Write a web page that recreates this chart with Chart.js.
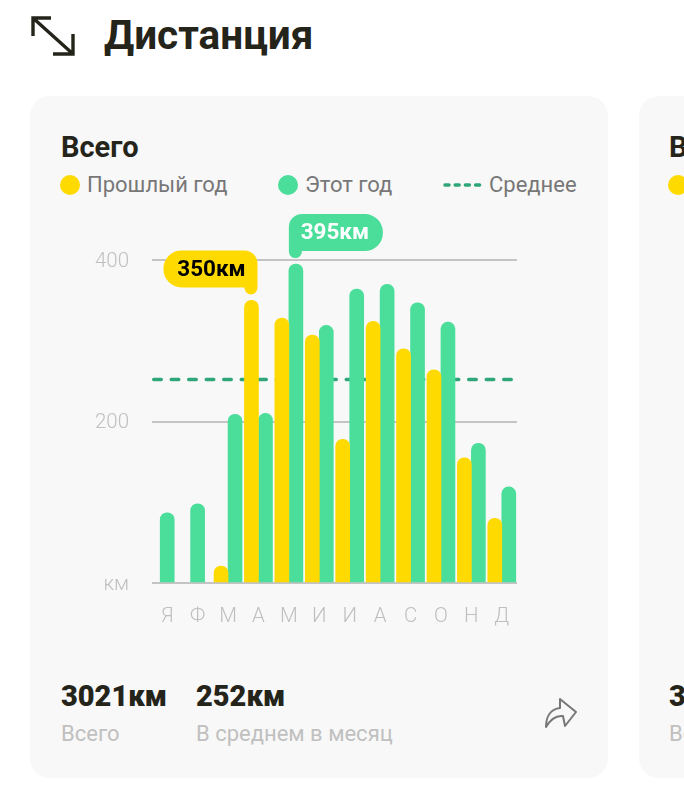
<!DOCTYPE html>
<html lang="ru">
<head>
<meta charset="utf-8">
<title>Дистанция</title>
<script src="https://cdn.jsdelivr.net/npm/chart.js@4/dist/chart.umd.min.js"></script>
<style>
html, body { margin: 0; padding: 0; background: #fff; }
body { position: relative; width: 684px; height: 800px; overflow: hidden; font-family: Roboto, sans-serif; }
.abs { position: absolute; white-space: nowrap; line-height: 1; }
.card { position: absolute; top: 96px; height: 682px; background: #f8f8f8; border-radius: 20px; }
.title { left: 104px; top: 15px; font-size: 40.5px; font-weight: 700; color: #25241a; }
.sub { top: 133px; font-size: 29px; font-weight: 700; color: #25241a; }
.leg { top: 174px; font-size: 22px; color: #777; }
.dot { position: absolute; top: 175px; width: 20px; height: 20px; border-radius: 50%; }
.big { top: 682px; font-size: 29px; font-weight: 900; color: #25241a; }
.small { top: 723px; font-size: 22px; color: #c0c0c0; }
#distChart { position: absolute; left: 60px; top: 200px; }
</style>
</head>
<body>
<svg class="abs" style="left:28px;top:13px" width="50" height="48" viewBox="0 0 50 48" fill="none" stroke="#25241a" stroke-width="3.4">
  <path d="M5 23 V5 H23 M5 5 L45 41 M45 21 V41 H25"/>
</svg>
<div class="abs title">Дистанция</div>

<div class="card" style="left:30px;width:578px"></div>
<div class="card" style="left:639px;width:100px"></div>

<div class="abs sub" style="left:61px">Всего</div>
<div class="dot" style="left:60px;background:#ffda00"></div>
<div class="abs leg" style="left:87px">Прошлый год</div>
<div class="dot" style="left:278px;background:#4ade9a"></div>
<div class="abs leg" style="left:305px">Этот год</div>
<svg class="abs" style="left:442px;top:182px" width="40" height="6">
  <line x1="3" y1="3" x2="38" y2="3" stroke="#2fa679" stroke-width="3.5" stroke-linecap="round" stroke-dasharray="4 6.2"/>
</svg>
<div class="abs leg" style="left:489px">Среднее</div>

<canvas id="distChart" width="500" height="440"></canvas>

<div class="abs big" style="left:61px">3021км</div>
<div class="abs small" style="left:61px">Всего</div>
<div class="abs big" style="left:196px">252км</div>
<div class="abs small" style="left:196px">В среднем в месяц</div>
<svg class="abs" style="left:543px;top:696px" width="36" height="34" viewBox="0 0 36 34" fill="none" stroke="#777" stroke-width="2" stroke-linejoin="round">
  <path d="M3 31 C3 20 8 13 17 12 L17 3 L33 16 L22 30 L20 20 C12 19 7 24 3 31 Z"/>
</svg>

<div class="abs sub" style="left:669px">Всего</div>
<div class="dot" style="left:668px;background:#ffda00"></div>
<div class="abs big" style="left:669px">3021км</div>
<div class="abs small" style="left:669px">Всего</div>

<script>
const months = ["Я", "Ф", "М", "А", "М", "И", "И", "А", "С", "О", "Н", "Д"];
const lastYear = [null, null, 21, 350, 328, 307, 178, 324, 290, 264, 155, 80];
const thisYear = [87, 98, 209, 210, 395, 319, 364, 370, 347, 323, 173, 119];
const average = 252;
const yTicks = [0, 200, 400];
const yTickLabels = ["км", "200", "400"];
const unit = "км";

// пунктир среднего идет на всю ширину графика и лежит под столбиками
const averagePlugin = {
    id: "averageLine",
    beforeDatasetsDraw(chart) {
        const ctx = chart.ctx;
        const area = chart.chartArea;
        const y = chart.scales.y.getPixelForValue(average);
        ctx.save();
        ctx.strokeStyle = "#2fa679";
        ctx.lineWidth = 3.4;
        ctx.lineCap = "round";
        ctx.setLineDash([7.6, 9.9]);
        ctx.beginPath();
        ctx.moveTo(area.left + 1.7, y);
        ctx.lineTo(area.right, y);
        ctx.stroke();
        ctx.restore();
    }
};

// пузырьки над максимумами
const calloutPlugin = {
    id: "callouts",
    afterDatasetsDraw(chart) {
        const ctx = chart.ctx;
        const drawCallout = (dsIndex, fill, textColor, tailRight) => {
            const values = chart.data.datasets[dsIndex].data;
            const idx = values.indexOf(Math.max(...values));
            const bar = chart.getDatasetMeta(dsIndex).data[idx];
            const barLeft = bar.x - bar.width / 2;
            const tailBottom = bar.y - 6;
            const w = 94, h = 37, tailW = 13;
            const top = tailBottom - 7 - h;
            const left = tailRight ? barLeft + tailW - w : barLeft;
            const tailX = tailRight ? left + w - tailW : left;
            ctx.save();
            ctx.fillStyle = fill;
            ctx.beginPath();
            ctx.roundRect(left, top, w, h, tailRight ? [18, 13, 0, 18] : [13, 18, 18, 0]);
            ctx.roundRect(tailX, top + h - 14, tailW, 21, [0, 0, 6.5, 6.5]);
            ctx.fill();
            ctx.fillStyle = textColor;
            ctx.font = "700 22.5px Roboto";
            ctx.textAlign = "center";
            ctx.textBaseline = "middle";
            ctx.fillText(values[idx] + unit, left + w / 2 + (tailRight ? 1 : -1), top + h / 2 + 1);
            ctx.restore();
        };
        drawCallout(0, "#ffda00", "#000", true);
        drawCallout(1, "#4ade9a", "#fff", false);
    }
};

new Chart(document.getElementById("distChart"), {
    type: "bar",
    data: {
        labels: months,
        datasets: [
            { label: "Прошлый год", data: lastYear, backgroundColor: "#ffda00", skipNull: true, barThickness: 14,
              borderRadius: { topLeft: 7, topRight: 7 } },
            { label: "Этот год", data: thisYear, backgroundColor: "#4ade9a", skipNull: true, barThickness: 14,
              borderRadius: { topLeft: 7, topRight: 7 } }
        ]
    },
    options: {
        responsive: false,
        animation: false,
        layout: { padding: { top: 60, right: 43, bottom: 0, left: 0 } },
        plugins: { legend: { display: false }, tooltip: { enabled: false } },
        scales: {
            x: {
                grid: { display: false },
                border: { display: false },
                ticks: { color: "#bfbfbf", font: { family: "Roboto", size: 20.5, weight: 300 }, padding: 14, maxRotation: 0, autoSkip: false },
                afterFit(axis) { axis.height = 57; }
            },
            y: {
                min: 0,
                max: 400,
                afterBuildTicks(axis) { axis.ticks = yTicks.map(v => ({ value: v })); },
                grid: { color: "#c4c4c4", lineWidth: 2, tickLength: 0, drawTicks: false },
                border: { display: false },
                ticks: {
                    color: "#bfbfbf",
                    font: { family: "Roboto", size: 20.5, weight: 300 },
                    padding: 23,
                    labelOffset: 1.5,
                    callback: value => yTickLabels[yTicks.indexOf(value)]
                },
                afterFit(axis) { axis.width = 92; }
            }
        }
    },
    plugins: [averagePlugin, calloutPlugin]
});
</script>
</body>
</html>
